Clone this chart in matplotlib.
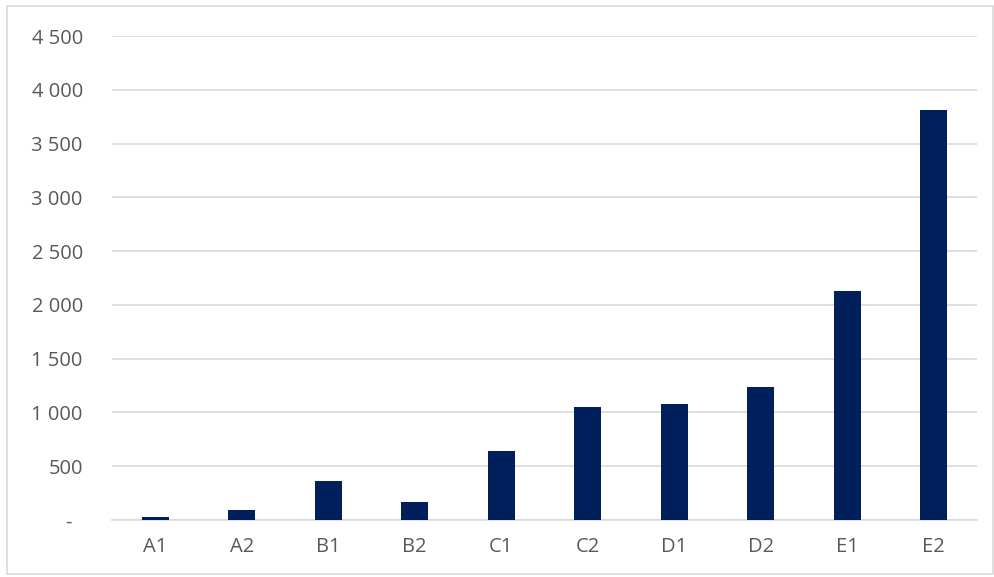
import matplotlib.pyplot as plt
from matplotlib.patches import Rectangle
from matplotlib.ticker import FuncFormatter

categories = ['A1', 'A2', 'B1', 'B2', 'C1', 'C2', 'D1', 'D2', 'E1', 'E2']
values = [30, 90, 360, 167, 644, 1050, 1078, 1236, 2128, 3810]
y_ticks = [0, 500, 1000, 1500, 2000, 2500, 3000, 3500, 4000, 4500]

bar_color = '#001f5b'
grid_color = '#d9d9d9'
text_color = '#595959'

plt.rcParams['font.family'] = ['Open Sans', 'DejaVu Sans']

fig = plt.figure(figsize=(9.95, 5.77), dpi=100)
ax = fig.add_axes([112 / 995, 57 / 577, 865 / 995, 484 / 577])

ax.bar(range(len(categories)), values, width=0.31, color=bar_color, zorder=3)

ax.set_xlim(-0.5, len(categories) - 0.5)
ax.set_ylim(0, 4500)
ax.set_yticks(y_ticks)
ax.set_xticks(range(len(categories)))
ax.set_xticklabels(categories)


def fmt(v, pos):
    if v == 0:
        return '-  '
    return '{:,.0f}'.format(v).replace(',', ' ')


ax.yaxis.set_major_formatter(FuncFormatter(fmt))
ax.grid(axis='y', color=grid_color, linewidth=1.2, zorder=0)
for s in ['top', 'right', 'left']:
    ax.spines[s].set_visible(False)
ax.spines['bottom'].set_color(grid_color)
ax.spines['bottom'].set_linewidth(1.2)
ax.tick_params(axis='both', length=0, labelsize=14.5, colors=text_color)
ax.tick_params(axis='y', pad=21)
ax.tick_params(axis='x', pad=12)

fig.patches.append(Rectangle((7 / 995, 3 / 577), 986 / 995, 568 / 577,
                             transform=fig.transFigure, fill=False,
                             edgecolor=grid_color, linewidth=1.2))

fig.savefig('out.png', dpi=100)
